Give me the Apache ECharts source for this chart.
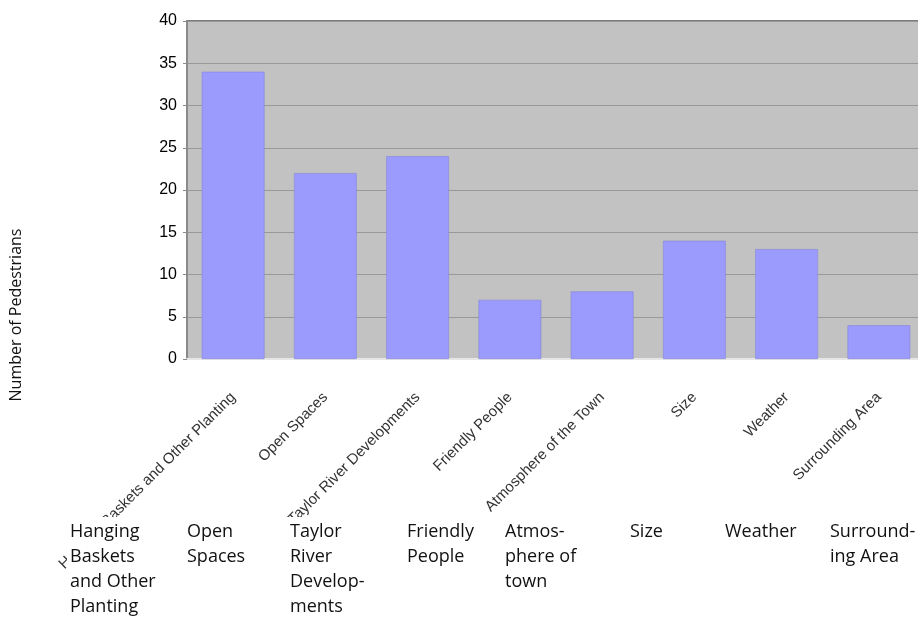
<!DOCTYPE html>
<html>
<head>
<meta charset="utf-8">
<title>Number of Pedestrians</title>
<script src="https://cdn.jsdelivr.net/npm/echarts@6/dist/echarts.min.js"></script>
<style>
  html, body { margin: 0; padding: 0; background: #fff; overflow: hidden; }
  /* the plot runs off the right edge of the picture, so the canvas is a bit wider than the window */
  #chart { width: 925px; height: 619px; }
</style>
</head>
<body>
<div id="chart"></div>
<script>
// data
const categories = [
  'Hanging Baskets and Other Planting', 'Open Spaces', 'Taylor River Developments',
  'Friendly People', 'Atmosphere of the Town', 'Size', 'Weather', 'Surrounding Area'
];
const captions = [
  'Hanging\nBaskets\nand Other\nPlanting', 'Open\nSpaces', 'Taylor\nRiver\nDevelop-\nments',
  'Friendly\nPeople', 'Atmos-\nphere of\ntown', 'Size', 'Weather', 'Surround-\ning Area'
];
const pedestrians = [34, 22, 24, 7, 8, 14, 13, 4];
const yMin = 0;
const yMax = 40;
const yStep = 5;
const yTitle = 'Number of Pedestrians';

// layout of the captions under the chart (left edge of each block)
const captionX = [70, 187, 290, 407, 505, 630, 725, 830];

const chart = echarts.init(document.getElementById('chart'));

const graphic = [
  {
    type: 'text',
    x: 16,
    y: 315,
    rotation: Math.PI / 2,
    style: {
      text: yTitle,
      fontSize: 16,
      fontFamily: 'Open Sans',
      fill: '#111',
      align: 'center',
      verticalAlign: 'middle'
    }
  }
];
captions.forEach(function (t, i) {
  graphic.push({
    type: 'text',
    x: captionX[i] - 3,
    y: 517,
    z: 100,
    style: {
      text: t,
      fontSize: 18,
      fontFamily: 'Open Sans',
      fill: '#111',
      lineHeight: 25,
      backgroundColor: '#fff',
      padding: [2, 6, 2, 3]
    }
  });
});

chart.setOption({
  animation: false,
  backgroundColor: '#fff',
  grid: {
    left: 187,
    right: 0,
    top: 21,
    bottom: 260,
    show: true,
    backgroundColor: '#c2c2c2',
    borderColor: '#7a7a7a',
    borderWidth: 2
  },
  xAxis: {
    type: 'category',
    data: categories,
    axisLine: { lineStyle: { color: '#e6e6e6', width: 2 } },
    axisTick: { show: false },
    axisLabel: {
      interval: 0,
      rotate: 45,
      margin: 36,
      fontSize: 15,
      fontFamily: 'Liberation Sans',
      color: '#333'
    }
  },
  yAxis: {
    type: 'value',
    min: yMin,
    max: yMax,
    interval: yStep,
    axisLine: { show: true, lineStyle: { color: '#8a8a8a', width: 2 } },
    axisTick: { show: true, length: 4, lineStyle: { color: '#8a8a8a' } },
    axisLabel: {
      fontSize: 16,
      fontFamily: 'Liberation Sans',
      color: '#000',
      margin: 10
    },
    splitLine: { lineStyle: { color: '#999999', width: 1 } }
  },
  series: [{
    type: 'bar',
    data: pedestrians,
    barCategoryGap: '32%',
    itemStyle: {
      color: '#9b9bfd',
      borderColor: '#8585d8',
      borderWidth: 0.6
    }
  }],
  graphic: graphic
});
</script>
</body>
</html>
